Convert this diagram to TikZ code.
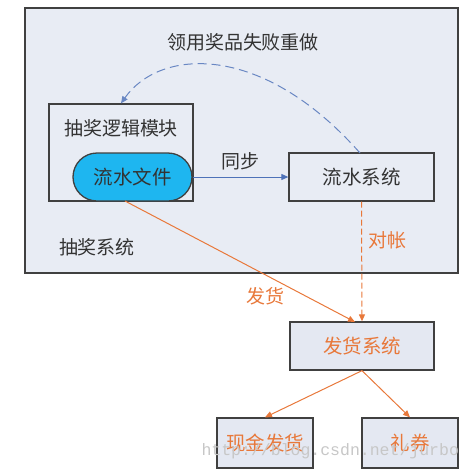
\documentclass[tikz,border=0pt]{standalone}
\usepackage{fontspec}
\setmainfont{Noto Sans CJK SC}
\setmonofont{Liberation Mono}
\usetikzlibrary{arrows.meta}

\definecolor{panel}{HTML}{E8ECF4}
\definecolor{boxfill}{HTML}{E4E8F2}
\definecolor{pipe}{HTML}{1EB6F0}
\definecolor{flowblue}{HTML}{4E72B8}
\definecolor{ship}{HTML}{E8783A}

\begin{document}
\begin{tikzpicture}[
    x=1pt, y=-1pt,
    sysbox/.style={draw=black!75, line width=1.3pt, fill=#1, inner sep=0pt,
                   font=\fontsize{19.5}{22}\selectfont},
    arr/.style={-{Triangle[length=7pt, width=6pt]}, line width=1pt},
    lbl/.style={font=\fontsize{19}{21}\selectfont}
  ]
  \useasboundingbox (0,0) rectangle (470,472);

  % outer lottery system panel
  \node[sysbox=panel, minimum width=433pt, minimum height=265pt] (lottery) at (241.5,140.5) {};
  \node[lbl, text=black!80] (lotterylbl) at (97,247) {抽奖系统};

  % logic module with the flow file inside
  \node[sysbox=panel, minimum width=144pt, minimum height=97pt] (logic) at (121,152.5) {};
  \node[lbl, text=black!80] (logiclbl) at (121,128) {抽奖逻辑模块};
  \node[sysbox=pipe, rounded corners=24pt, minimum width=119pt, minimum height=48pt,
        text=black!80] (flowfile) at (132.5,177) {流水文件};

  \node[sysbox=panel, minimum width=145pt, minimum height=48pt, text=black!80] (flowsys) at (361.5,177) {流水系统};

  % delivery side
  \node[sysbox=boxfill, minimum width=144pt, minimum height=48pt, text=ship] (deliver) at (362,346) {发货系统};
  \node[sysbox=boxfill, minimum width=96pt, minimum height=50pt, text=ship] (cash) at (265,443) {现金发货};
  \node[sysbox=boxfill, minimum width=96pt, minimum height=50pt, text=ship] (coupon) at (410,443) {礼券};

  % blue connectors
  \draw[arr, flowblue] (flowfile.east) -- (flowsys.west)
    node[midway, above=3pt, lbl, text=black!80] (synclbl) {同步};
  \draw[arr, flowblue!85, dashed, dash pattern=on 9pt off 5pt] (360,153) .. controls (262,42) and (160,48) .. (logic.north);
  \node[lbl, text=black!80] (retrylbl) at (243,42) {领用奖品失败重做};

  % orange connectors
  \draw[arr, ship] (125,201) -- (355,322);
  \node[lbl, text=ship] (shiplbl) at (265,296) {发货};
  \draw[arr, ship, dashed, dash pattern=on 6pt off 3pt] (flowsys.south) -- (deliver.north);
  \node[lbl, text=ship] (checklbl) at (387,240) {对帐};
  \draw[arr, ship] (deliver.south) -- (cash.north);
  \draw[arr, ship] (deliver.south) -- (coupon.north);

  % watermark
  \node[anchor=west, text=black!22, font=\ttfamily\fontsize{16.5}{19}\selectfont] (mark) at (198,451) {http://blog.csdn.net/jurbo};
\end{tikzpicture}
\end{document}
